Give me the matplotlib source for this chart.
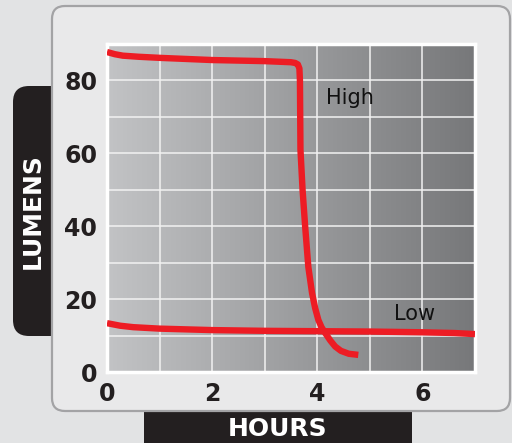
import numpy as np
import matplotlib
matplotlib.use("Agg")
import matplotlib.pyplot as plt
from matplotlib.patches import FancyBboxPatch
from matplotlib.colors import LinearSegmentedColormap

# ---- data ----
high_hours = [0, 0.15, 0.3, 0.6, 1, 2, 3, 3.5, 3.58, 3.63, 3.66, 3.67, 3.68, 3.72, 3.77, 3.83,
              3.90, 3.96, 4.02, 4.08, 4.15, 4.25, 4.34, 4.45, 4.6, 4.78]
high_lumens = [87.8, 87.2, 86.8, 86.5, 86.2, 85.6, 85.3, 85.0, 84.8, 84.4, 83.3, 80.0, 61.0, 50.0,
               39.8, 28.8, 21.7, 17.5, 14.3, 12.3, 10.7, 8.6, 7.0, 5.8, 5.0, 4.7]
low_hours = [0, 0.25, 0.5, 1, 2, 3, 4, 5, 6, 6.6, 7]
low_lumens = [13.4, 12.7, 12.3, 11.9, 11.5, 11.3, 11.2, 11.1, 10.9, 10.7, 10.4]
x_ticks = [0, 2, 4, 6]
y_ticks = [0, 20, 40, 60, 80]
x_label = "HOURS"
y_label = "LUMENS"

W, H = 512, 443
fig = plt.figure(figsize=(W / 100, H / 100), dpi=100)
fig.patch.set_facecolor("#e2e3e4")

# background drawing layer in pixel coords
bg = fig.add_axes([0, 0, 1, 1], zorder=0)
bg.set_xlim(0, W)
bg.set_ylim(H, 0)
bg.axis("off")

dark = "#231f20"
bg.add_patch(FancyBboxPatch((13, 86), 80, 250, boxstyle="round,pad=0,rounding_size=16",
                            fc=dark, ec="none", zorder=1))
bg.add_patch(FancyBboxPatch((144, 380), 268, 90, boxstyle="round,pad=0,rounding_size=16",
                            fc=dark, ec="none", zorder=1))
bg.add_patch(FancyBboxPatch((52, 6), 458, 405, boxstyle="round,pad=0,rounding_size=13",
                            fc="#e9e9ea", ec="#a3a3a5", lw=1.6, zorder=2))
bg.text(33, 211, y_label, rotation=90, color="white", fontsize=18, fontweight="heavy",
        ha="center", va="center", zorder=3)
bg.text(278, 429, x_label, color="white", fontsize=18, fontweight="heavy",
        ha="center", va="center", zorder=3)

# main plot
left, right, top, bottom = 107, 475, 44, 372
ax = fig.add_axes([left / W, 1 - bottom / H, (right - left) / W, (bottom - top) / H], zorder=2)
ax.set_xlim(0, 7)
ax.set_ylim(0, 90)

grad = np.linspace(0, 1, 256).reshape(1, -1)
cmap = LinearSegmentedColormap.from_list("g", ["#c2c3c5", "#77787a"])
ax.imshow(grad, extent=[0, 7, 0, 90], aspect="auto", cmap=cmap, zorder=0)

for xv in range(1, 7):
    ax.axvline(xv, color="#f2f2f2", lw=1.1, zorder=1)
for yv in range(10, 90, 10):
    ax.axhline(yv, color="#f2f2f2", lw=1.1, zorder=1)

red = "#ed1c24"
ax.plot(low_hours, low_lumens, color=red, lw=4.6, solid_capstyle="butt",
        solid_joinstyle="round", zorder=3)
ax.plot(high_hours, high_lumens, color=red, lw=4.6, solid_capstyle="butt",
        solid_joinstyle="round", zorder=3)

ax.text(4.17, 75.2, "High", fontsize=15, color="#111111", ha="left", va="center", zorder=4)
ax.text(5.85, 16.0, "Low", fontsize=15, color="#111111", ha="center", va="center", zorder=4)

for s in ax.spines.values():
    s.set_color("white")
    s.set_linewidth(2.5)

ax.set_xticks(x_ticks)
ax.set_yticks(y_ticks)
ax.set_xticklabels([str(v) for v in x_ticks])
ax.set_yticklabels([str(v) for v in y_ticks])
ax.tick_params(length=0, labelsize=17, labelcolor=dark, pad=7)
for lab in ax.get_xticklabels() + ax.get_yticklabels():
    lab.set_fontweight("heavy")

fig.savefig("out.png", dpi=100, facecolor=fig.get_facecolor())
